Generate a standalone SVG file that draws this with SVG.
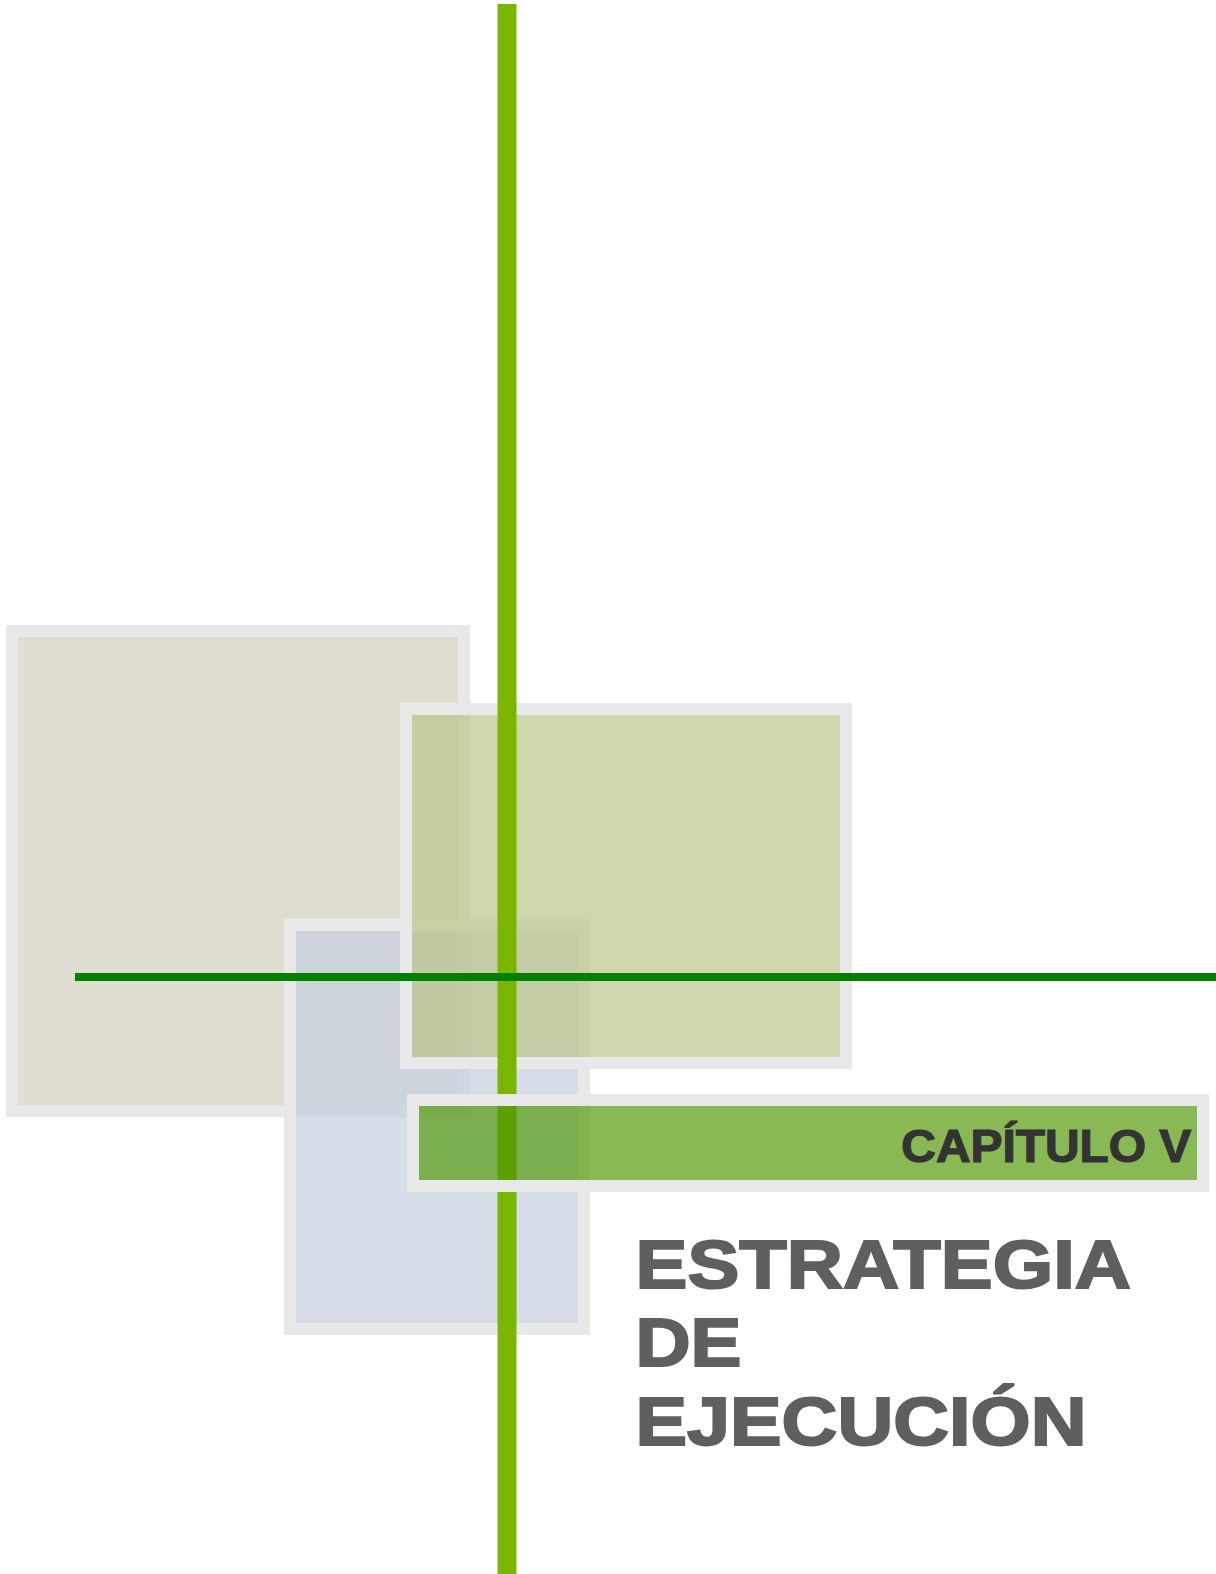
<svg xmlns="http://www.w3.org/2000/svg" width="1216" height="1574" viewBox="0 0 1216 1574">
  <style>
    .frame { stroke: #e8e8e8; stroke-width: 12; }
    .title { font-family: "Liberation Sans", Arial, sans-serif; font-weight: bold; font-size: 68px; fill: #5f5f5f; stroke: #5f5f5f; stroke-width: 2; stroke-linejoin: miter; }
    .chapter { font-family: "Liberation Sans", Arial, sans-serif; font-weight: bold; font-size: 45.5px; fill: #333333; stroke: #333333; stroke-width: 1.2; }
  </style>
  <rect width="1216" height="1574" fill="#ffffff"/>
  <g id="box-beige">
    <rect class="frame" x="12" y="631" width="452" height="480" fill="#dfddd0"/>
  </g>
  <g id="box-blue">
    <rect class="frame" x="290" y="925" width="294" height="404" fill="rgb(196,206,222)" fill-opacity="0.7"/>
  </g>
  <g id="box-green">
    <rect class="frame" x="406" y="709" width="440" height="354" fill="rgb(187,196,134)" fill-opacity="0.68"/>
  </g>
  <g id="connectors">
    <rect id="vertical-line" x="497.5" y="4" width="19" height="1570" fill="#7ab500"/>
  </g>
  <g id="chapter-bar">
    <rect class="frame" x="413" y="1100" width="790" height="86" fill="rgb(78,151,2)" fill-opacity="0.67"/>
    <text class="chapter" x="901.3" y="1161.7" textLength="290" lengthAdjust="spacingAndGlyphs">CAPÍTULO V</text>
  </g>
  <g id="connectors-top">
    <rect id="horizontal-line" x="75" y="973" width="1141" height="8" fill="#008000"/>
  </g>
  <g id="title">
    <text class="title" x="635.5" y="1287.5" textLength="495.5" lengthAdjust="spacingAndGlyphs">ESTRATEGIA</text>
    <text class="title" x="635.5" y="1366.2" textLength="106" lengthAdjust="spacingAndGlyphs">DE</text>
    <text class="title" x="635.5" y="1445.3" textLength="451" lengthAdjust="spacingAndGlyphs">EJECUCIÓN</text>
  </g>
</svg>
